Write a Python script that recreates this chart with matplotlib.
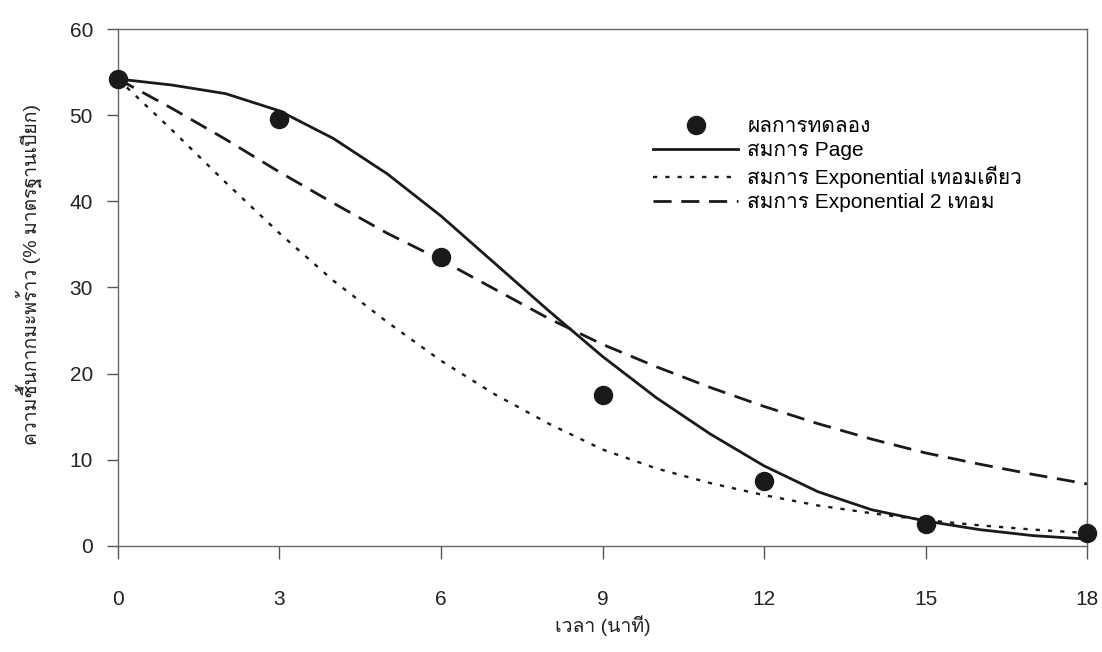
import numpy as np
import matplotlib
matplotlib.use("Agg")
import matplotlib.pyplot as plt
from matplotlib import font_manager, ft2font

# เวลา (นาที) และความชื้นที่วัดได้
t_exp = [0, 3, 6, 9, 12, 15, 18]
mc_exp = [54.2, 49.5, 33.5, 17.5, 7.5, 2.6, 1.5]

# ค่าจากสมการแบบจำลอง อ่านทุก 1 นาที
t_model = list(range(0, 19))
mc_page = [54.2, 53.5, 52.5, 50.5, 47.3, 43.2, 38.3, 32.8, 27.3, 22.0,
           17.2, 13.0, 9.3, 6.3, 4.2, 2.9, 1.9, 1.2, 0.8]
mc_exp1 = [54.2, 48.3, 42.2, 36.3, 30.8, 26.0, 21.5, 17.6, 14.2, 11.2,
           9.0, 7.3, 5.9, 4.7, 3.8, 3.0, 2.4, 1.9, 1.5]
mc_exp2 = [54.2, 50.8, 47.2, 43.4, 39.8, 36.3, 33.2, 29.8, 26.4, 23.4,
           20.8, 18.4, 16.2, 14.2, 12.4, 10.8, 9.5, 8.3, 7.2]

labels = ["ผลการทดลอง", "สมการ Page", "สมการ Exponential เทอมเดียว",
          "สมการ Exponential 2 เทอม"]
xticks = [0, 3, 6, 9, 12, 15, 18]
yticks = [0, 10, 20, 30, 40, 50, 60]

# หาฟอนต์ที่มีอักษรไทย
thai_font = None
for f in font_manager.fontManager.ttflist:
    try:
        cmap = ft2font.FT2Font(f.fname).get_charmap()
    except Exception:
        continue
    if 0x0E01 in cmap:
        thai_font = f.name
        break

fams = ["Liberation Sans"]
if thai_font:
    fams.append(thai_font)
fams.append("DejaVu Sans")
plt.rcParams["font.family"] = fams

fig = plt.figure(figsize=(11.02, 6.52), dpi=100)
ax = fig.add_axes([0.107, 0.1626, 0.8795, 0.7929])

ax.plot(t_model, mc_page, color="#1a1a1a", lw=2.0, label=labels[1])
ax.plot(t_model, mc_exp1, color="#1a1a1a", lw=1.7, linestyle=(0, (1.8, 3.4)),
        label=labels[2])
ax.plot(t_model, mc_exp2, color="#1a1a1a", lw=2.0, linestyle=(0, (6.5, 3.5)),
        label=labels[3])
ax.plot(t_exp, mc_exp, "o", color="#1a1a1a", markersize=13, label=labels[0],
        clip_on=False, zorder=5)

ax.set_xlim(0, 18)
ax.set_ylim(0, 60)
ax.set_xticks(xticks)
ax.set_yticks(yticks)
ax.tick_params(axis="x", direction="out", length=9, width=1, color="#555555",
               pad=23, labelsize=15, labelcolor="#222222")
ax.tick_params(axis="y", direction="out", length=8, width=1, color="#555555",
               pad=10, labelsize=15, labelcolor="#222222")
for s in ax.spines.values():
    s.set_color("#666666")
    s.set_linewidth(1.0)

ax.set_xlabel("เวลา (นาที)", fontsize=14, color="#222222", labelpad=4)
ax.set_ylabel("ความชื้นกากมะพร้าว (% มาตรฐานเปียก)", fontsize=14,
              color="#222222")
ax.yaxis.set_label_coords(-0.078, 0.526)

h, l = ax.get_legend_handles_labels()
order = [3, 0, 1, 2]
ax.legend([h[i] for i in order], [l[i] for i in order], loc="upper left",
          bbox_to_anchor=(0.552, 0.83), frameon=False, fontsize=15,
          handlelength=4.1, handletextpad=0.43, labelspacing=0.25,
          borderpad=0, borderaxespad=0)

fig.savefig("out.png", dpi=100)
